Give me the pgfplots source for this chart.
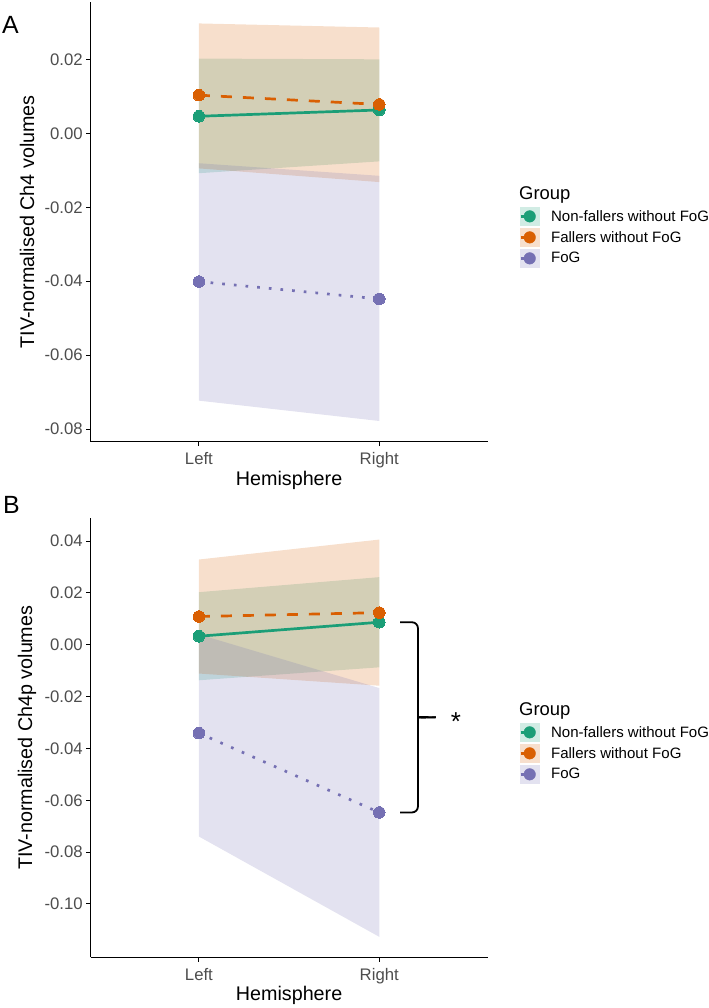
\documentclass[border=0pt]{standalone}
\usepackage{pgfplots}
\pgfplotsset{compat=1.18}
\usepackage{fontspec}
\setmainfont{Liberation Sans}

\definecolor{nf}{HTML}{1B9E77}
\definecolor{fa}{HTML}{D95F02}
\definecolor{fog}{HTML}{7570B3}
\definecolor{tickgrey}{HTML}{4D4D4D}

\pgfplotsset{
  hemi/.style={
    scale only axis, width=396.8bp,
    xmin=0.4, xmax=2.6, xtick={1,2}, xticklabels={Left,Right},
    axis lines=left, axis line style={-, line width=1.1bp, black},
    tick align=outside, major tick length=4.5bp,
    every tick/.style={black, line width=1.1bp},
    ticklabel style={font=\fontsize{16.8}{20}\selectfont, text=tickgrey},
    xticklabel style={yshift=-3bp},
    label style={font=\fontsize{19.8}{24}\selectfont},
    xlabel={Hemisphere},
    xlabel style={at={(axis description cs:0.5,0)}, anchor=center, yshift=-38.3bp},
    ylabel style={at={(axis description cs:-0.1605,0.5)}, anchor=center},
    clip=false,
    legend cell align=left,
    legend style={draw=none, fill=none, anchor=north west,
      at={(axis description cs:1.0794,0.5342)},
      font=\fontsize{15.1}{18}\selectfont, row sep=2.3bp,
      inner sep=0pt, nodes={inner sep=0pt}},
  },
  ribbon/.style={draw=none, fill=#1, fill opacity=0.2, forget plot},
  mean/.style={#1, line width=2.7bp, forget plot},
  dot/.style={color=#1, only marks, mark=*, mark size=5.8bp,
    mark options={draw=#1, line width=0pt, fill=#1, solid}, forget plot},
  key/.style={legend image code/.code={
      \fill[#1!20] (0bp,-9.15bp) rectangle (18.3bp,9.15bp);
      \draw[#1, line width=2.7bp] (0bp,0bp) -- (9.15bp,0bp);
      \fill[#1] (9.15bp,0bp) circle (5.8bp);
      \path (30.3bp,0bp);}},
}

\begin{document}
\begin{tikzpicture}
\useasboundingbox (0,0) rectangle (709bp,-1008bp);

% Panel A: Ch4
\begin{axis}[hemi, at={(90.7bp,-441.7bp)}, anchor=south west, height=439.7bp,
  ymin=-0.0834, ymax=0.0355,
  ytick={-0.08,-0.06,-0.04,-0.02,0,0.02},
  yticklabels={-0.08,-0.06,-0.04,-0.02,0.00,0.02},
  ylabel={TIV-normalised Ch4 volumes}]
  % confidence bands: (x, lower/upper)
  \addplot[ribbon=nf]  coordinates {(1,-0.0108) (2,-0.0076) (2,0.0200) (1,0.0202)};
  \addplot[ribbon=fa]  coordinates {(1,-0.0095) (2,-0.0132) (2,0.0286) (1,0.0297)};
  \addplot[ribbon=fog] coordinates {(1,-0.0723) (2,-0.0778) (2,-0.0115) (1,-0.0081)};
  % group means
  \addplot[mean=nf]  coordinates {(1,0.0046) (2,0.0063)};
  \addplot[mean=fa, dash pattern=on 11bp off 11bp]  coordinates {(1,0.0103) (2,0.0078)};
  \addplot[mean=fog, dash pattern=on 2.7bp off 9bp] coordinates {(1,-0.0401) (2,-0.0448)};
  \addplot[dot=nf]  coordinates {(1,0.0046) (2,0.0063)};
  \addplot[dot=fa]  coordinates {(1,0.0103) (2,0.0078)};
  \addplot[dot=fog] coordinates {(1,-0.0401) (2,-0.0448)};
  \addlegendimage{key=nf}  \addlegendentry{Non-fallers without FoG}
  \addlegendimage{key=fa}  \addlegendentry{Fallers without FoG}
  \addlegendimage{key=fog} \addlegendentry{FoG}
\end{axis}

% Panel B: Ch4p
\begin{axis}[hemi, at={(90.7bp,-957.3bp)}, anchor=south west, height=439bp,
  ymin=-0.1206, ymax=0.0488,
  ytick={-0.10,-0.08,-0.06,-0.04,-0.02,0,0.02,0.04},
  yticklabels={-0.10,-0.08,-0.06,-0.04,-0.02,0.00,0.02,0.04},
  ylabel={TIV-normalised Ch4p volumes}]
  \addplot[ribbon=nf]  coordinates {(1,-0.0137) (2,-0.0087) (2,0.0261) (1,0.0203)};
  \addplot[ribbon=fa]  coordinates {(1,-0.0111) (2,-0.0158) (2,0.0406) (1,0.0329)};
  \addplot[ribbon=fog] coordinates {(1,-0.0740) (2,-0.1127) (2,-0.0167) (1,0.0040)};
  \addplot[mean=nf]  coordinates {(1,0.0033) (2,0.0087)};
  \addplot[mean=fa, dash pattern=on 11bp off 11bp]  coordinates {(1,0.0109) (2,0.0124)};
  \addplot[mean=fog, dash pattern=on 2.7bp off 9bp] coordinates {(1,-0.0341) (2,-0.0647)};
  \addplot[dot=nf]  coordinates {(1,0.0033) (2,0.0087)};
  \addplot[dot=fa]  coordinates {(1,0.0109) (2,0.0124)};
  \addplot[dot=fog] coordinates {(1,-0.0341) (2,-0.0647)};
  \addlegendimage{key=nf}  \addlegendentry{Non-fallers without FoG}
  \addlegendimage{key=fa}  \addlegendentry{Fallers without FoG}
  \addlegendimage{key=fog} \addlegendentry{FoG}
  % significance brace between the right-hemisphere means
  \draw[line width=1.8bp, rounded corners=6bp]
    (axis cs:2.115,0.0087) -- (axis cs:2.2145,0.0087) -- (axis cs:2.2145,-0.0255)
    to[out=-90,in=180] (axis cs:2.314,-0.0280);
  \draw[line width=1.8bp, rounded corners=6bp]
    (axis cs:2.115,-0.0647) -- (axis cs:2.2145,-0.0647) -- (axis cs:2.2145,-0.0305)
    to[out=90,in=180] (axis cs:2.314,-0.0280);
  \node[anchor=base, inner sep=0pt, font=\fontsize{26}{30}\selectfont]
    at (axis cs:2.425,-0.0331) {*};
\end{axis}

% panel letters and legend titles
\node[anchor=base west, inner sep=0pt, font=\fontsize{25}{30}\selectfont] at (2bp,-33bp) {A};
\node[anchor=base west, inner sep=0pt, font=\fontsize{25}{30}\selectfont] at (3bp,-513bp) {B};
\node[anchor=base west, inner sep=0pt, font=\fontsize{18.5}{22}\selectfont] at (519bp,-199.5bp) {Group};
\node[anchor=base west, inner sep=0pt, font=\fontsize{18.5}{22}\selectfont] at (519bp,-715.5bp) {Group};
\end{tikzpicture}
\end{document}
